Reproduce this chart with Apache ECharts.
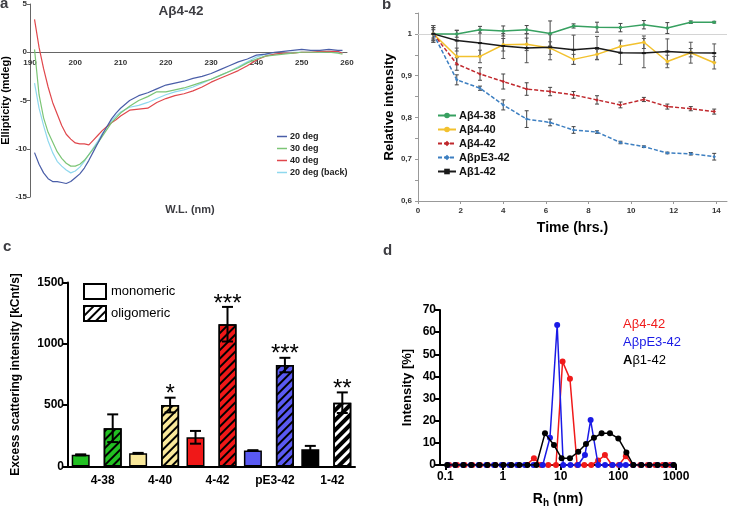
<!DOCTYPE html>
<html><head><meta charset="utf-8">
<script src="https://cdn.jsdelivr.net/npm/echarts@6/dist/echarts.min.js"></script>
<style>html,body{margin:0;padding:0;background:#fff}#c{width:738px;height:506px}</style>
</head><body><div id="c"></div>
<script>
// ---------- Panel a: CD spectra ----------
const cdWavelength = [191,192,193,194,195,196,197,198,199,200,201,202,203,204,205,206,207,208,209,210,212,214,216,218,220,222,224,226,228,230,232,234,236,238,240,242,244,246,248,250,252,254,256,258,259];
const cd20 = [-10.4,-11.6,-12.5,-13.1,-13.4,-13.4,-13.5,-13.6,-13.4,-13.0,-12.6,-12.0,-11.2,-10.3,-9.4,-8.5,-7.7,-6.9,-6.3,-5.8,-5.0,-4.5,-4.2,-3.8,-3.4,-3.2,-3.0,-2.7,-2.5,-2.2,-1.8,-1.4,-1.0,-0.7,-0.3,-0.2,0.0,0.1,0.2,0.3,0.2,0.2,0.3,0.2,0.2];
const cd30 = [0.3,-4.4,-6.8,-8.3,-9.3,-10.3,-11.0,-11.5,-11.8,-11.8,-11.6,-11.2,-10.6,-10.0,-9.4,-8.7,-8.0,-7.3,-6.8,-6.3,-5.6,-5.0,-4.6,-4.1,-4.1,-3.9,-3.7,-3.4,-3.1,-2.8,-2.4,-2.0,-1.6,-1.1,-0.7,-0.4,-0.3,-0.2,-0.1,0.0,0.0,0.0,0.0,-0.1,-0.2];
const cd40 = [3.4,0.5,-1.7,-3.6,-5.2,-6.4,-7.6,-8.5,-9.0,-9.4,-9.5,-9.5,-9.6,-9.1,-8.6,-8.1,-7.7,-7.3,-7.0,-6.6,-6.0,-5.9,-5.8,-5.2,-4.8,-4.5,-4.3,-4.0,-3.6,-3.1,-2.7,-2.3,-1.9,-1.4,-0.8,-0.4,-0.2,-0.1,-0.1,0.0,0.0,0.1,0.1,0.1,-0.1];
const cd20back = [-3.2,-5.8,-7.6,-9.2,-10.4,-11.3,-11.8,-12.2,-12.5,-12.3,-11.9,-11.3,-10.6,-9.9,-9.2,-8.4,-7.7,-7.1,-6.6,-6.2,-5.7,-5.5,-5.2,-4.8,-4.4,-4.1,-3.9,-3.6,-3.2,-2.8,-2.4,-2.0,-1.5,-1.0,-0.5,-0.2,-0.2,-0.1,0.0,0.0,0.0,0.0,0.1,0.0,0.0];
const cdNames = ['20 deg','30 deg','40 deg','20 deg (back)'];

// ---------- Panel b: relative intensity over time ----------
const timeHrs = [0.72,1.82,2.91,4.0,5.1,6.2,7.3,8.4,9.5,10.6,11.7,12.8,13.9];
const b438 = [1.0,1.0,1.010,1.007,1.010,1.001,1.019,1.016,1.015,1.022,1.014,1.028,1.028];
const b438Err = [0.02,0.008,0.008,0.012,0.01,0.03,0.005,0.012,0.01,0.01,0.013,0.003,0.002];
const b440 = [1.0,0.946,0.946,0.974,0.975,0.966,0.939,0.951,0.970,0.980,0.934,0.955,0.931];
const b440Err = [0.015,0.02,0.015,0.015,0.015,0.015,0.012,0.012,0.015,0.015,0.015,0.01,0.015];
const b442 = [1.0,0.928,0.904,0.886,0.868,0.862,0.854,0.842,0.830,0.843,0.826,0.821,0.814];
const b442Err = [0.015,0.015,0.015,0.018,0.015,0.01,0.008,0.01,0.007,0.005,0.006,0.005,0.006];
const bpE342 = [1.0,0.890,0.870,0.830,0.796,0.788,0.770,0.765,0.740,0.730,0.715,0.713,0.706];
const bpE342Err = [0.01,0.012,0.005,0.012,0.02,0.008,0.008,0.003,0.003,0.002,0.002,0.003,0.008];
const b142 = [1.0,0.984,0.978,0.971,0.966,0.968,0.962,0.966,0.955,0.954,0.958,0.955,0.954];
const b142Err = [0.02,0.025,0.03,0.03,0.035,0.03,0.035,0.028,0.028,0.035,0.03,0.025,0.022];
const bNames = ['Aβ4-38','Aβ4-40','Aβ4-42','AβpE3-42','Aβ1-42'];

// ---------- Panel c: excess scattering ----------
const cCategories = ['4-38','4-40','4-42','pE3-42','1-42'];
const cMono = [95,108,238,130,141];
const cMonoErr = [4,3,52,3,27];
const cOligo = [312,501,1160,827,520];
const cOligoErr = [113,60,141,59,84];
const cStars = ['','*','***','***','**'];
const cLegendNames = ['monomeric','oligomeric'];

// ---------- Panel d: DLS size distribution ----------
const dX442 = [0.117,0.160,0.217,0.295,0.402,0.546,0.741,1.01,1.37,1.86,2.54,3.44,4.57,6.10,8.30,10.8,14.5,19.3,25.7,33.9,44.7,58.6,77.6,102,135,178,240,324,437,589,794];
const dY442 = [0,0,0,0,0,0,0,0,0,0,0,3,0,0,0,46.7,38.9,0,0,0,2,4.5,0,0,4,0,0,0,0,0,0];
const dXpE = [0.110,0.149,0.203,0.277,0.377,0.513,0.698,0.951,1.29,1.76,2.40,3.39,4.90,6.53,8.71,11.1,14.8,20.0,26.4,33.1,44.7,58.9,79.4,107,135,182,251,347,479,661,891];
const dYpE = [0,0,0,0,0,0,0,0,0,0,0,0,0,12.3,63.2,0,0,0,4.5,20.3,0,0,0,0,0,0,0,0,0,0,0];
const dX142 = [0.108,0.149,0.206,0.283,0.390,0.537,0.740,1.02,1.40,1.93,2.66,3.80,5.35,7.66,10.4,14.5,20.2,27.5,37.8,51.3,71.6,100,138,182,251,347,479,661,912];
const dY142 = [0,0,0,0,0,0,0,0,0,0,0,0,14.3,9.0,3.0,3.0,6.0,9.5,12.3,14.3,14.3,12.0,5.7,0,0,0,0,0,0];
const dNames = ['Aβ4-42','AβpE3-42','Aβ1-42'];

// ---------- styles ----------
const FONT = 'Liberation Sans';
const cdColors = ['#4a5ea8','#7cc576','#e0474c','#8fd8ee'];
const bColors = ['#37a060','#f2c12e','#c0282d','#3d7fc1','#1a1a1a'];
const cColorsMono = ['#22c022','#f9e89a','#f01818','#5a5af2','#000000'];
const cColorsOligo = ['#22c022','#f9e89a','#f01818','#5a5af2','#ffffff'];
const dColors = ['#f01a1a','#1a1ae6','#000000'];
const BAR_W = 18, BAR_GAP = 14;
const hatch = (thick, gap) => ({symbol: 'rect', symbolSize: 1, dashArrayX: [1, 0], dashArrayY: [thick, gap], rotation: -Math.PI / 4, color: '#000'});

const pairs = (xs, ys) => xs.map((x, i) => [x, ys[i]]);
const triples = (xs, ys, es) => xs.map((x, i) => [x, ys[i], es[i]]);
const plainNum = v => String(+(+v).toPrecision(6));

function errRenderB(color) {
  return function (params, api) {
    const x = api.value(0), y = api.value(1), e = api.value(2);
    const t = api.coord([x, y + e]), b = api.coord([x, y - e]);
    const st = {stroke: color, lineWidth: 1};
    return {type: 'group', children: [
      {type: 'line', shape: {x1: t[0], y1: t[1], x2: b[0], y2: b[1]}, style: st},
      {type: 'line', shape: {x1: t[0] - 2, y1: t[1], x2: t[0] + 2, y2: t[1]}, style: st},
      {type: 'line', shape: {x1: b[0] - 2, y1: b[1], x2: b[0] + 2, y2: b[1]}, style: st}
    ]};
  };
}
function errRenderC(side, stars) {
  return function (params, api) {
    const i = api.value(0), v = api.value(1), e = api.value(2);
    const off = side * (BAR_W + BAR_GAP) / 2;
    const t = api.coord([i, v + e]), b = api.coord([i, v - e]);
    const x = t[0] + off;
    const st = {stroke: '#000', lineWidth: 2};
    const ch = [
      {type: 'line', shape: {x1: x, y1: t[1], x2: x, y2: b[1]}, style: st},
      {type: 'line', shape: {x1: x - 5.5, y1: t[1], x2: x + 5.5, y2: t[1]}, style: st},
      {type: 'line', shape: {x1: x - 5.5, y1: b[1], x2: x + 5.5, y2: b[1]}, style: st}
    ];
    if (stars && stars[params.dataIndex]) {
      ch.push({type: 'text', style: {text: stars[params.dataIndex], x: x, y: t[1] - 3, align: 'center', verticalAlign: 'middle', fontSize: 24, fontFamily: FONT, fill: '#000'}});
    }
    return {type: 'group', children: ch};
  };
}

const smallLbl = {fontSize: 8, fontWeight: 'bold', color: '#333', fontFamily: FONT};
const bigLbl = {fontSize: 12, fontWeight: 'bold', color: '#000', fontFamily: FONT};
const blackAxis = {show: true, lineStyle: {color: '#000', width: 2}};
const A_TOP = 4, A_H = 193, A_MIN = -15, A_MAX = 5;

const option = {
  animation: false,
  textStyle: {fontFamily: FONT},
  title: [
    {text: 'a', left: 0, top: -4, padding: 0, textStyle: {fontSize: 15, fontWeight: 'bold', fontFamily: FONT}},
    {text: 'Aβ4-42', left: 181, top: 4, padding: 0, textAlign: 'center', textStyle: {fontSize: 13.5, fontWeight: 'bold', fontFamily: FONT}},
    {text: 'W.L. (nm)', left: 190, top: 204, padding: 0, textAlign: 'center', textStyle: {fontSize: 11, fontWeight: 'bold', fontFamily: FONT}},
    {text: 'b', left: 382, top: -3, padding: 0, textStyle: {fontSize: 15, fontWeight: 'bold', fontFamily: FONT}},
    {text: 'c', left: 3, top: 239, padding: 0, textStyle: {fontSize: 15, fontWeight: 'bold', fontFamily: FONT}},
    {text: 'd', left: 383, top: 243, padding: 0, textStyle: {fontSize: 15, fontWeight: 'bold', fontFamily: FONT}},
    {text: dNames[0], left: 623, top: 318, padding: 0, textStyle: {fontSize: 13, fontWeight: 'normal', color: dColors[0], fontFamily: FONT}},
    {text: dNames[1], left: 623, top: 336, padding: 0, textStyle: {fontSize: 13, fontWeight: 'normal', color: dColors[1], fontFamily: FONT}},
    {text: '{b|A}β1-42', left: 623, top: 354, padding: 0, textStyle: {fontSize: 13, fontWeight: 'normal', color: dColors[2], fontFamily: FONT,
      rich: {b: {fontSize: 13, fontWeight: 'bold', color: '#000', fontFamily: FONT}}}}
  ],
  legend: [
    {data: cdNames, orient: 'vertical', left: 277, top: 131, icon: 'rect', itemWidth: 10, itemHeight: 1.5, itemGap: 1, padding: 0,
     textStyle: {fontSize: 9, fontWeight: 'bold', color: '#222', fontFamily: FONT, padding: [0, 0, 0, -2], lineHeight: 11}},
    {data: bNames, orient: 'vertical', left: 437, top: 110, itemWidth: 18, itemHeight: 7, itemGap: 3, padding: 0,
     textStyle: {fontSize: 11, fontWeight: 'bold', color: '#111', fontFamily: FONT, padding: [0, 0, 0, -2]}},
    {data: cLegendNames, orient: 'vertical', left: 83, top: 283, itemWidth: 22, itemHeight: 15, itemGap: 5, padding: 0,
     icon: 'rect', textStyle: {fontSize: 13, color: '#000', fontFamily: FONT}}
  ],
  grid: [
    {left: 30, top: A_TOP, width: 317, height: A_H, outerBoundsMode: 'none'},
    {left: 418, top: 13, width: 309, height: 188, outerBoundsMode: 'none'},
    {left: 68, top: 282.5, width: 287, height: 184, outerBoundsMode: 'none'},
    {left: 440, top: 310, width: 236, height: 155, outerBoundsMode: 'none'}
  ],
  xAxis: [
    {gridIndex: 0, type: 'value', min: 190, max: 260, interval: 10, position: 'bottom',
     offset: -A_H * (0 - A_MIN) / (A_MAX - A_MIN),
     axisLine: {show: true, onZero: false, lineStyle: {color: '#666', width: 1}}, axisTick: {show: false},
     axisLabel: Object.assign({margin: 7}, smallLbl), splitLine: {show: false}},
    {gridIndex: 1, type: 'value', min: 0, max: 14.5, interval: 2, name: 'Time (hrs.)', nameLocation: 'middle', nameGap: 20,
     nameTextStyle: {fontSize: 14, fontWeight: 'bold', color: '#000', fontFamily: FONT},
     axisLine: {show: true, lineStyle: {color: '#999', width: 1}}, axisTick: {show: true, length: 3, lineStyle: {color: '#999'}},
     axisLabel: Object.assign({margin: 6, showMaxLabel: false}, smallLbl), splitLine: {show: false}},
    {gridIndex: 2, type: 'category', data: cCategories,
     axisLine: blackAxis, axisTick: {show: false},
     axisLabel: Object.assign({margin: 8, padding: [0, 0, 0, 12]}, bigLbl)},
    {gridIndex: 3, type: 'log', logBase: 10, min: 0.081, max: 1000,
     name: '{r|R}{s|h}{r| (nm)}', nameLocation: 'middle', nameGap: 25,
     nameTextStyle: {rich: {r: {fontSize: 14, fontWeight: 'bold', color: '#000', fontFamily: FONT},
                            s: {fontSize: 10, fontWeight: 'bold', color: '#000', fontFamily: FONT, padding: [8, 0, 0, 0]}}},
     axisLine: blackAxis, axisTick: {show: true, length: 5, lineStyle: {width: 2, color: '#000'}},
     axisLabel: Object.assign({margin: 6, showMinLabel: false, formatter: v => String(+(+v).toPrecision(3))}, bigLbl),
     splitLine: {show: false}, minorTick: {show: false}}
  ],
  yAxis: [
    {gridIndex: 0, type: 'value', min: A_MIN, max: A_MAX, interval: 5, name: 'Ellipticity (mdeg)', nameLocation: 'middle', nameGap: 17,
     nameTextStyle: {fontSize: 11, fontWeight: 'bold', color: '#000', fontFamily: FONT},
     axisLine: {show: true, lineStyle: {color: '#666', width: 1}}, axisTick: {show: true, length: 3, lineStyle: {color: '#666'}},
     axisLabel: Object.assign({margin: 3, formatter: plainNum}, smallLbl), splitLine: {show: false}},
    {gridIndex: 1, type: 'value', min: 0.6, max: 1.05, interval: 0.05, name: 'Relative intensity', nameLocation: 'middle', nameGap: 22,
     nameTextStyle: {fontSize: 13, fontWeight: 'bold', color: '#000', fontFamily: FONT},
     axisLine: {show: true, lineStyle: {color: '#999', width: 1}}, axisTick: {show: true, length: 3, lineStyle: {color: '#999'}},
     axisLabel: Object.assign({margin: 6, formatter: v => (Math.round(v * 20) % 2 !== 0 ? '' : (Math.abs(v - 1) < 1e-6 ? '1' : (+v).toFixed(1).replace('.', ',')))}, smallLbl),
     splitLine: {show: false}},
    {gridIndex: 2, type: 'value', min: 0, max: 1500, interval: 500, name: 'Excess scattering intensity [kCnt/s]', nameLocation: 'middle', nameGap: 46,
     nameTextStyle: {fontSize: 12, fontWeight: 'bold', color: '#000', fontFamily: FONT},
     axisLine: blackAxis, axisTick: {show: true, length: 5, lineStyle: {width: 2, color: '#000'}},
     axisLabel: Object.assign({margin: 4, formatter: plainNum}, bigLbl), splitLine: {show: false}},
    {gridIndex: 3, type: 'value', min: 0, max: 70, interval: 10, name: 'Intensity [%]', nameLocation: 'middle', nameGap: 26,
     nameTextStyle: {fontSize: 13, fontWeight: 'bold', color: '#000', fontFamily: FONT},
     axisLine: blackAxis, axisTick: {show: true, length: 5, lineStyle: {width: 2, color: '#000'}},
     axisLabel: Object.assign({margin: 4, formatter: plainNum}, bigLbl), splitLine: {show: false}}
  ],
  series: []
};

// panel a series
[cd20, cd30, cd40, cd20back].forEach((ys, k) => {
  option.series.push({name: cdNames[k], type: 'line', xAxisIndex: 0, yAxisIndex: 0, showSymbol: false, symbol: 'none',
    data: pairs(cdWavelength, ys), lineStyle: {color: cdColors[k], width: 1.2}, itemStyle: {color: cdColors[k]}, z: 3 - k});
});

// panel b series
const bVals = [b438, b440, b442, bpE342, b142];
const bErrs = [b438Err, b440Err, b442Err, bpE342Err, b142Err];
const bSymbols = ['circle', 'circle', 'diamond', 'diamond', 'rect'];
const bDashed = [false, false, true, true, false];
bVals.forEach((ys, k) => {
  option.series.push({type: 'custom', xAxisIndex: 1, yAxisIndex: 1, data: triples(timeHrs, ys, bErrs[k]),
    renderItem: errRenderB(k === 4 || k === 1 ? '#555' : '#444'), z: 2, silent: true});
});
bVals.forEach((ys, k) => {
  const s = {name: bNames[k], type: 'line', xAxisIndex: 1, yAxisIndex: 1, data: pairs(timeHrs, ys),
    symbol: bSymbols[k], symbolSize: k === 4 ? [4, 2] : 3.5, showSymbol: true,
    lineStyle: {color: bColors[k], width: 1.5, type: bDashed[k] ? [4, 2] : 'solid'}, itemStyle: {color: bColors[k]}, z: 4};
  if (k === 0) {
    s.markLine = {silent: true, symbol: 'none', label: {show: false}, data: [{yAxis: 1}],
      lineStyle: {color: '#d4d4d4', width: 1, type: 'solid'}, z: 1};
  }
  option.series.push(s);
});

// panel c series
option.series.push({name: cLegendNames[0], type: 'bar', xAxisIndex: 2, yAxisIndex: 2, barWidth: BAR_W, barGap: (BAR_GAP / BAR_W * 100) + '%',
  itemStyle: {color: '#ffffff', borderColor: '#000', borderWidth: 1.5},
  data: cMono.map((v, i) => ({value: v, itemStyle: {color: cColorsMono[i]}}))});
option.series.push({name: cLegendNames[1], type: 'bar', xAxisIndex: 2, yAxisIndex: 2, barWidth: BAR_W,
  itemStyle: {color: '#ffffff', borderColor: '#000', borderWidth: 1.5, decal: hatch(2, 4)},
  data: cOligo.map((v, i) => ({value: v, itemStyle: i === cOligo.length - 1 ? {color: cColorsOligo[i], decal: hatch(3.5, 3)} : {color: cColorsOligo[i]}}))});
option.series.push({type: 'custom', xAxisIndex: 2, yAxisIndex: 2, data: cMono.map((v, i) => [i, v, cMonoErr[i]]),
  renderItem: errRenderC(-1, null), z: 5, silent: true});
option.series.push({type: 'custom', xAxisIndex: 2, yAxisIndex: 2, data: cOligo.map((v, i) => [i, v, cOligoErr[i]]),
  renderItem: errRenderC(1, cStars), z: 5, silent: true});

// panel d series
[[dX442, dY442], [dXpE, dYpE], [dX142, dY142]].forEach((xy, k) => {
  option.series.push({name: 'd ' + dNames[k], type: 'line', xAxisIndex: 3, yAxisIndex: 3, data: pairs(xy[0], xy[1]),
    symbol: 'circle', symbolSize: 6, showSymbol: true,
    lineStyle: {color: dColors[k], width: 1.5}, itemStyle: {color: dColors[k]}, z: 3 + k});
});

const chart = echarts.init(document.getElementById('c'), null, {renderer: 'canvas'});
chart.setOption(option);
</script></body></html>
